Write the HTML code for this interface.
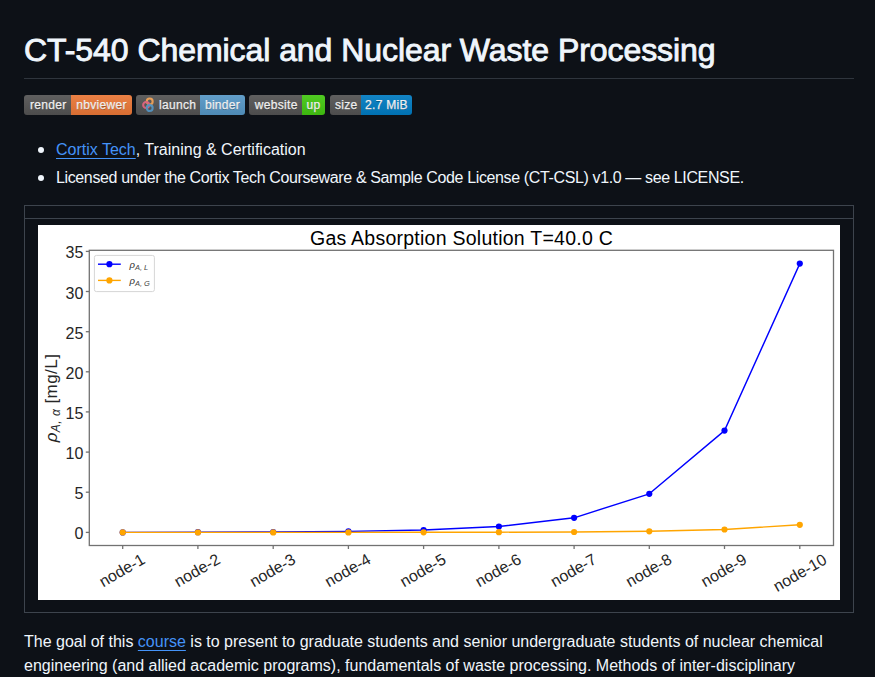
<!DOCTYPE html>
<html><head><meta charset="utf-8">
<style>
html,body{margin:0;padding:0;background:#0d1117;}
body{width:875px;height:677px;overflow:hidden;position:relative;font-family:"Liberation Sans",sans-serif;color:#f0f6fc;}
.abs{position:absolute;white-space:nowrap;}
#h1{left:24px;top:30px;font-size:32px;font-weight:400;line-height:40px;-webkit-text-stroke:0.9px #f0f6fc;letter-spacing:-0.06px;}
#hr{left:24px;top:78px;width:830px;height:1px;background:#2f353d;}
.badge{position:absolute;top:95px;height:20px;border-radius:3px;overflow:hidden;display:flex;font-size:12px;letter-spacing:0.3px;line-height:20px;color:#fff;text-shadow:0 1px 0 rgba(1,1,1,0.3);-webkit-text-stroke:0.25px #fff;}
.badge span{display:block;text-align:center;height:20px;}
.badge::after{content:"";position:absolute;left:0;top:0;right:0;bottom:0;background:linear-gradient(rgba(187,187,187,.1),rgba(0,0,0,.1));}
.g{background:#555;text-indent:1.5px;}
ul{margin:0;padding:0;list-style:none;}
.li{position:absolute;left:56px;font-size:16px;line-height:24px;}
.dot{position:absolute;left:38px;width:6px;height:6px;border-radius:50%;background:#f0f6fc;}
a{color:#4493f8;text-decoration:underline;text-underline-offset:3px;}
#tbl{left:24px;top:205px;width:828px;height:406px;border:1px solid #3d444d;}
#thb{left:25px;top:218px;width:828px;height:1px;background:#3d444d;}
#chart{left:38px;top:225px;width:802px;height:375px;background:#fff;}
.p{position:absolute;left:24px;font-size:16px;line-height:24px;}
</style></head>
<body>
<div class="abs" id="h1">CT-540 Chemical and Nuclear Waste Processing</div>
<div class="abs" id="hr"></div>

<div class="badge" style="left:24px;width:108px"><span class="g" style="width:47px">render</span><span style="width:61px;background:#f07a38">nbviewer</span></div>
<div class="badge" style="left:136px;width:109px"><span class="g" style="width:64px;position:relative"><svg style="position:absolute;left:0;top:0" width="20" height="20" viewBox="0 0 20 20"><circle cx="13.7" cy="6.5" r="2.95" fill="none" stroke="#f5a252" stroke-width="2.1"/><circle cx="10.1" cy="10" r="2.95" fill="none" stroke="#e66581" stroke-width="2.1"/><circle cx="13.7" cy="13.1" r="2.95" fill="none" stroke="#579aca" stroke-width="2.1"/></svg><span style="position:absolute;left:23px;top:0;text-indent:0">launch</span></span><span style="width:45px;background:#579aca">binder</span></div>
<div class="badge" style="left:249px;width:76px"><span class="g" style="width:53px">website</span><span style="width:23px;background:#44cc11">up</span></div>
<div class="badge" style="left:330px;width:82px"><span class="g" style="width:31px">size</span><span style="width:51px;background:#007ec6">2.7 MiB</span></div>

<div class="dot" style="top:147px"></div>
<div class="li abs" id="li1" style="top:138px"><a>Cortix Tech</a>, Training &amp; Certification</div>
<div class="dot" style="top:175px"></div>
<div class="li abs" id="li2" style="top:166px;letter-spacing:-0.37px">Licensed under the Cortix Tech Courseware &amp; Sample Code License (CT-CSL) v1.0 — see LICENSE.</div>

<div class="abs" id="tbl"></div>
<div class="abs" id="thb"></div>
<div class="abs" id="chart">
<svg width="802" height="375" viewBox="0 0 802 375" font-family="Liberation Sans, sans-serif">
<rect width="802" height="375" fill="#fff"/>
<text x="423.5" y="20.1" font-size="19.5" letter-spacing="0.25" text-anchor="middle" fill="#000">Gas Absorption Solution T=40.0 C</text>
<polyline fill="none" stroke="#0000ff" stroke-width="1.4" stroke-linejoin="round" points="84.7,307.4 159.9,307.2 235.2,307.0 310.4,306.4 385.6,305.0 460.9,301.5 536.1,292.8 611.3,268.8 686.5,205.6 761.8,38.6"/>
<g fill="#0000ff"><circle cx="84.7" cy="307.4" r="3.1"/><circle cx="159.9" cy="307.2" r="3.1"/><circle cx="235.2" cy="307.0" r="3.1"/><circle cx="310.4" cy="306.4" r="3.1"/><circle cx="385.6" cy="305.0" r="3.1"/><circle cx="460.9" cy="301.5" r="3.1"/><circle cx="536.1" cy="292.8" r="3.1"/><circle cx="611.3" cy="268.8" r="3.1"/><circle cx="686.5" cy="205.6" r="3.1"/><circle cx="761.8" cy="38.6" r="3.1"/></g>
<polyline fill="none" stroke="#ffa500" stroke-width="1.4" stroke-linejoin="round" points="84.7,307.4 159.9,307.4 235.2,307.4 310.4,307.4 385.6,307.3 460.9,307.2 536.1,307.0 611.3,306.3 686.5,304.5 761.8,299.8"/>
<g fill="#ffa500"><circle cx="84.7" cy="307.4" r="3.1"/><circle cx="159.9" cy="307.4" r="3.1"/><circle cx="235.2" cy="307.4" r="3.1"/><circle cx="310.4" cy="307.4" r="3.1"/><circle cx="385.6" cy="307.3" r="3.1"/><circle cx="460.9" cy="307.2" r="3.1"/><circle cx="536.1" cy="307.0" r="3.1"/><circle cx="611.3" cy="306.3" r="3.1"/><circle cx="686.5" cy="304.5" r="3.1"/><circle cx="761.8" cy="299.8" r="3.1"/></g>
<rect x="51.3" y="25.3" width="744.2" height="295.2" fill="none" stroke="#727272" stroke-width="1.3"/>
<g stroke="#727272" stroke-width="1.3">
<line x1="47.8" x2="51.3" y1="307.4" y2="307.4"/>
<line x1="47.8" x2="51.3" y1="267.2" y2="267.2"/>
<line x1="47.8" x2="51.3" y1="227.1" y2="227.1"/>
<line x1="47.8" x2="51.3" y1="186.9" y2="186.9"/>
<line x1="47.8" x2="51.3" y1="146.8" y2="146.8"/>
<line x1="47.8" x2="51.3" y1="106.7" y2="106.7"/>
<line x1="47.8" x2="51.3" y1="66.5" y2="66.5"/>
<line x1="47.8" x2="51.3" y1="26.4" y2="26.4"/>
<line x1="84.7" x2="84.7" y1="320.5" y2="324.0"/>
<line x1="159.9" x2="159.9" y1="320.5" y2="324.0"/>
<line x1="235.2" x2="235.2" y1="320.5" y2="324.0"/>
<line x1="310.4" x2="310.4" y1="320.5" y2="324.0"/>
<line x1="385.6" x2="385.6" y1="320.5" y2="324.0"/>
<line x1="460.9" x2="460.9" y1="320.5" y2="324.0"/>
<line x1="536.1" x2="536.1" y1="320.5" y2="324.0"/>
<line x1="611.3" x2="611.3" y1="320.5" y2="324.0"/>
<line x1="686.5" x2="686.5" y1="320.5" y2="324.0"/>
<line x1="761.8" x2="761.8" y1="320.5" y2="324.0"/>
</g>
<g font-size="16" fill="#262626" text-anchor="end" letter-spacing="0">
<text x="45.3" y="314.4">0</text>
<text x="45.3" y="274.2">5</text>
<text x="45.3" y="234.1">10</text>
<text x="45.3" y="193.9">15</text>
<text x="45.3" y="153.8">20</text>
<text x="45.3" y="113.7">25</text>
<text x="45.3" y="73.5">30</text>
<text x="45.3" y="33.4">35</text>
</g>
<g font-size="16" fill="#262626" text-anchor="middle" letter-spacing="0">
<text transform="translate(86.7,350) rotate(-30)">node-1</text>
<text transform="translate(161.9,350) rotate(-30)">node-2</text>
<text transform="translate(237.2,350) rotate(-30)">node-3</text>
<text transform="translate(312.4,350) rotate(-30)">node-4</text>
<text transform="translate(387.6,350) rotate(-30)">node-5</text>
<text transform="translate(462.9,350) rotate(-30)">node-6</text>
<text transform="translate(538.1,350) rotate(-30)">node-7</text>
<text transform="translate(613.3,350) rotate(-30)">node-8</text>
<text transform="translate(688.5,350) rotate(-30)">node-9</text>
<text transform="translate(764.6,352.5) rotate(-30)">node-10</text>
</g>
<text transform="translate(18.8,173) rotate(-90)" font-size="17" letter-spacing="0.45" fill="#262626" text-anchor="middle"><tspan font-style="italic">ρ</tspan><tspan font-style="italic" font-size="12" dy="3">A, α</tspan><tspan dy="-3"> [mg/L]</tspan></text>
<rect x="56.4" y="30.4" width="60.0" height="36.2" rx="2" fill="#fff" fill-opacity="0.8" stroke="#d6d6d6" stroke-width="1"/>
<line x1="60" x2="82.8" y1="39.2" y2="39.2" stroke="#0000ff" stroke-width="1.4"/><circle cx="71.4" cy="39.2" r="3.1" fill="#0000ff"/>
<text x="91.5" y="43.1" font-size="9.5" font-style="italic" fill="#262626"><tspan>ρ</tspan><tspan font-size="7.5" dy="1.9" fill="#444">A, L</tspan></text>
<line x1="60" x2="82.8" y1="55.4" y2="55.4" stroke="#ffa500" stroke-width="1.4"/><circle cx="71.4" cy="55.4" r="3.1" fill="#ffa500"/>
<text x="91.5" y="59.3" font-size="9.5" font-style="italic" fill="#262626"><tspan>ρ</tspan><tspan font-size="7.5" dy="1.9" fill="#444">A, G</tspan></text>
</svg>
</div>

<div class="p abs" id="p1" style="top:630px">The goal of this <a>course</a> is to present to graduate students and senior undergraduate students of nuclear chemical</div>
<div class="p abs" id="p2" style="top:654px">engineering (and allied academic programs), fundamentals of waste processing. Methods of inter-disciplinary</div>
</body></html>
